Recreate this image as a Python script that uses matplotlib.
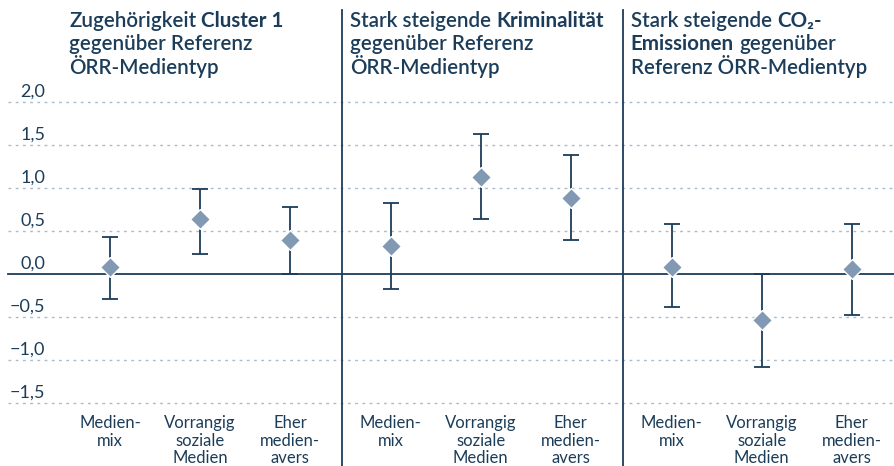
import matplotlib
matplotlib.use("Agg")
import matplotlib.pyplot as plt
from matplotlib.transforms import offset_copy
import numpy as np

# categories and estimates
categories = ["Medien-\nmix", "Vorrangig\nsoziale\nMedien", "Eher\nmedien-\navers"]
panel_titles = [
    [[("Zugehörigkeit ", "normal"), ("Cluster 1", "bold")],
     [("gegenüber Referenz", "normal")],
     [("ÖRR-Medientyp", "normal")]],
    [[("Stark steigende ", "normal"), ("Kriminalität", "bold")],
     [("gegenüber Referenz", "normal")],
     [("ÖRR-Medientyp", "normal")]],
    [[("Stark steigende ", "normal"), ("CO₂-", "bold")],
     [("Emissionen", "bold"), (" gegenüber", "normal")],
     [("Referenz ÖRR-Medientyp", "normal")]],
]
estimate = [[0.08, 0.64, 0.40],
            [0.33, 1.13, 0.88],
            [0.08, -0.535, 0.06]]
ci_low = [[-0.29, 0.23, 0.0],
          [-0.17, 0.64, 0.39],
          [-0.38, -1.08, -0.475]]
ci_high = [[0.43, 0.99, 0.78],
           [0.82, 1.63, 1.38],
           [0.58, 0.0, 0.58]]
yticks = [2.0, 1.5, 1.0, 0.5, 0.0, -0.5, -1.0, -1.5]

NAVY = "#1c3d5a"
MARKER = "#8199b3"
GRID = "#a9bccd"
FONT = "Lato"
TITLE_SIZE = 14.8

plt.rcParams["font.family"] = [FONT, "DejaVu Sans"]

fig = plt.figure(figsize=(8.94, 4.66), dpi=100)
ax = fig.add_axes([0, 0, 1, 1])
ax.set_xlim(-1.2222, 8.7111)
ax.set_ylim(-2.2326, 3.186)
ax.axis("off")

group_step = 3.12
x_left = -1.13

# grid + zero line
for v in yticks:
    if v == 0:
        ax.plot([x_left, 8.75], [0, 0], color=NAVY, lw=1.3, zorder=2)
    else:
        ax.plot([x_left, 8.75], [v, v], color=GRID, lw=1.0,
                linestyle=(0, (2, 3.2)), zorder=1)
    lab = f"{v:.1f}".replace(".", ",").replace("-", "\u2212")
    ax.text(-0.72, v + 0.058, lab, ha="right", va="baseline",
            fontsize=13, color=NAVY)

# panel dividers
for g in (1, 2):
    xd = g * group_step - 0.54
    ax.plot([xd, xd], [-2.3, 3.07], color=NAVY, lw=1.3, zorder=2)

fig.canvas.draw()
renderer = fig.canvas.get_renderer()


def run_width(s, weight):
    kw = dict(fontsize=TITLE_SIZE, fontweight=weight)
    t = ax.text(0, 0, s.strip() + "|", **kw)
    bar = ax.text(0, 0, "|", **kw)
    w = t.get_window_extent(renderer).width - bar.get_window_extent(renderer).width
    sp = ax.text(0, 0, "x x", **kw)
    xx = ax.text(0, 0, "xx", **kw)
    space = sp.get_window_extent(renderer).width - xx.get_window_extent(renderer).width
    for a in (t, bar, sp, xx):
        a.remove()
    lead = len(s) - len(s.lstrip())
    trail = len(s) - len(s.rstrip())
    return w, space * lead, space * trail


for g in range(3):
    x0 = g * group_step - 0.54 + 0.087
    xs = g * group_step + np.arange(3)

    ax.errorbar(xs, estimate[g],
                yerr=[np.array(estimate[g]) - np.array(ci_low[g]),
                      np.array(ci_high[g]) - np.array(estimate[g])],
                fmt="none", ecolor=NAVY, elinewidth=1.3, capsize=6,
                capthick=1.3, zorder=3)
    ax.plot(xs, estimate[g], linestyle="none", marker="D", markersize=10.5,
            color=MARKER, markeredgecolor="white", markeredgewidth=1.0,
            zorder=4)

    for i, cat in enumerate(categories):
        ax.text(xs[i], -1.64, cat, ha="center", va="top", fontsize=12,
                color=NAVY, linespacing=1.12)

    for li, line in enumerate(panel_titles[g]):
        y = 2.87 - li * 0.27
        off = 0.0
        for s, weight in line:
            w, lead, trail = run_width(s, "bold" if weight == "bold" else "semibold")
            off += lead
            tr = offset_copy(ax.transData, fig=fig, x=off, y=0, units="dots")
            ax.text(x0, y, s.strip(), transform=tr, fontsize=TITLE_SIZE,
                    fontweight="bold" if weight == "bold" else "semibold",
                    color=NAVY, va="baseline", ha="left")
            off += w + trail

fig.savefig("out.png", dpi=100)
